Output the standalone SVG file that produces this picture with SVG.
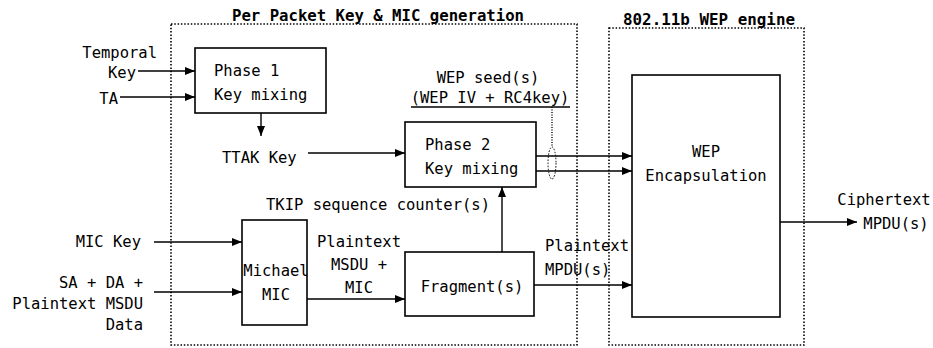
<svg xmlns="http://www.w3.org/2000/svg" width="933" height="348" viewBox="0 0 933 348">
<style>
text{font-family:"DejaVu Sans Mono","Liberation Mono",monospace;font-size:15.5px;fill:#000}
.t{font-weight:bold;font-size:15.5px}
.box{fill:#fff;stroke:#000;stroke-width:1.6}
.dot{fill:none;stroke:#000;stroke-width:1.6;stroke-dasharray:1.5 1.8}
.ln{fill:none;stroke:#000;stroke-width:1.4}
.m{text-anchor:middle}
.e{text-anchor:end}
</style>
<defs>
<marker id="ah" markerWidth="10" markerHeight="8" refX="10" refY="4" orient="auto" markerUnits="userSpaceOnUse">
<path d="M0,0 L10,4 L0,8 Z" fill="#000"/>
</marker>
</defs>
<rect width="933" height="348" fill="#fff"/>
<g id="group-perpacket">
<rect class="dot" x="171" y="24" width="406" height="321"/>
<text class="t" x="232" y="21" textLength="292" lengthAdjust="spacingAndGlyphs">Per Packet Key &amp; MIC generation</text>
</g>
<g id="group-wep-engine">
<rect class="dot" x="609" y="28" width="195" height="317"/>
<text class="t" x="623" y="25" textLength="172" lengthAdjust="spacingAndGlyphs">802.11b WEP engine</text>
</g>
<g id="phase1">
<rect class="box" x="195" y="48" width="131" height="65"/>
<text x="214" y="76">Phase 1</text>
<text x="214" y="100">Key mixing</text>
</g>
<g id="phase2">
<rect class="box" x="405" y="122" width="131" height="65"/>
<text x="425" y="150">Phase 2</text>
<text x="425" y="174">Key mixing</text>
</g>
<g id="michael">
<rect class="box" x="242" y="220" width="65" height="105"/>
<text class="m" x="276" y="276">Michael</text>
<text class="m" x="276" y="300">MIC</text>
</g>
<g id="fragment">
<rect class="box" x="405" y="252" width="129" height="64"/>
<text class="m" x="472" y="292">Fragment(s)</text>
</g>
<g id="wep-encap">
<rect class="box" x="632" y="75" width="148" height="242"/>
<text class="m" x="706" y="157">WEP</text>
<text class="m" x="706" y="181">Encapsulation</text>
</g>
<g id="labels">
<text class="e" x="157" y="58">Temporal</text>
<text class="e" x="136" y="78">Key</text>
<text class="e" x="118" y="104">TA</text>
<text x="222" y="163">TTAK Key</text>
<text class="m" x="488" y="83">WEP seed(s)</text>
<text class="m" x="490" y="103">(WEP IV + RC4key)</text>
<text x="266" y="210">TKIP sequence counter(s)</text>
<text class="e" x="141" y="247">MIC Key</text>
<text class="e" x="143" y="288">SA + DA +</text>
<text class="e" x="143" y="309">Plaintext MSDU</text>
<text class="e" x="143" y="330">Data</text>
<text class="m" x="359" y="247">Plaintext</text>
<text class="m" x="359" y="270">MSDU +</text>
<text class="m" x="359" y="293">MIC</text>
<text x="545" y="251">Plaintext</text>
<text x="545" y="275">MPDU(s)</text>
<text class="m" x="884" y="205">Ciphertext</text>
<text class="m" x="896" y="229">MPDU(s)</text>
</g>
<g id="connectors">
<path class="ln" d="M138,71 H195" marker-end="url(#ah)"/>
<path class="ln" d="M120,97 H195" marker-end="url(#ah)"/>
<path class="ln" d="M261,113 V136" marker-end="url(#ah)"/>
<path class="ln" d="M308,153 H405" marker-end="url(#ah)"/>
<path class="ln" d="M536,156 H632" marker-end="url(#ah)"/>
<path class="ln" d="M536,171 H632" marker-end="url(#ah)"/>
<path class="ln" d="M411,107 H570"/>
<path class="ln" d="M552,107 V147" stroke-dasharray="1 1.5" stroke-width="1"/>
<ellipse cx="552" cy="163" rx="4" ry="16" fill="none" stroke="#000" stroke-width="1" stroke-dasharray="1.5 1.5"/>
<path class="ln" d="M154,242 H242" marker-end="url(#ah)"/>
<path class="ln" d="M154,292 H242" marker-end="url(#ah)"/>
<path class="ln" d="M307,299 H405" marker-end="url(#ah)"/>
<path class="ln" d="M502,252 V187" marker-end="url(#ah)"/>
<path class="ln" d="M534,285 H632" marker-end="url(#ah)"/>
<path class="ln" d="M780,222 H857" marker-end="url(#ah)"/>
</g>
</svg>
